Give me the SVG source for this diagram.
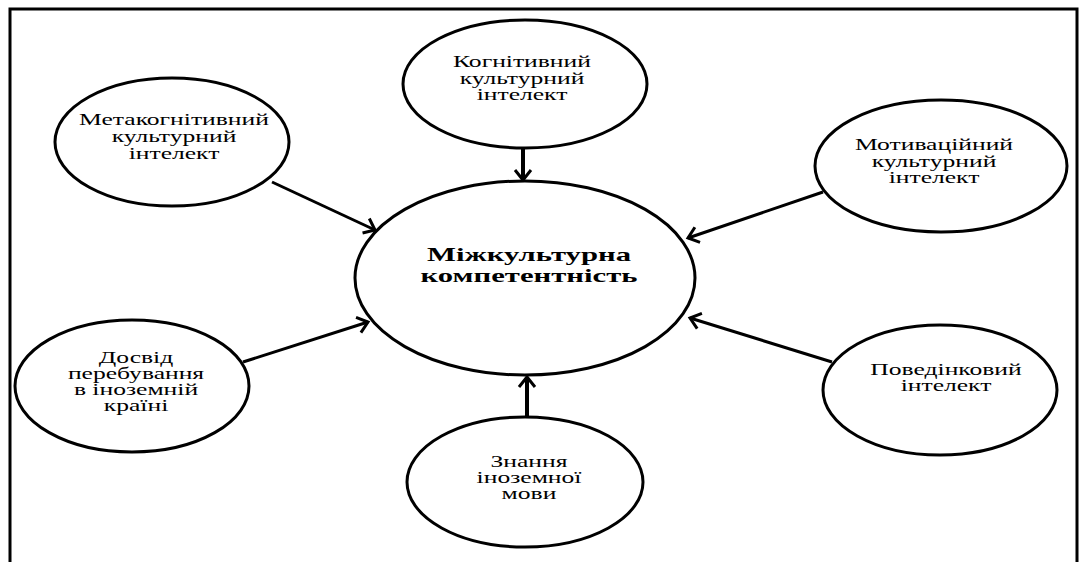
<svg xmlns="http://www.w3.org/2000/svg" width="1084" height="562" viewBox="0 0 1084 562">
  <style>
    .node ellipse { fill: #ffffff; stroke: #000000; stroke-width: 3; }
    .lbl { font-family: "Liberation Serif", "Times New Roman", serif; font-size: 16px; fill: #000000; text-anchor: middle; }
    .main { font-family: "Liberation Serif", "Times New Roman", serif; font-size: 18.5px; font-weight: bold; fill: #000000; text-anchor: middle; }
    .frame { stroke: #000000; stroke-width: 3; fill: none; }
    .conn { stroke: #000000; stroke-width: 3; fill: none; marker-end: url(#chev); }
    .conn.v { stroke-width: 4; }
  </style>
  <defs>
    <marker id="chev" markerUnits="userSpaceOnUse" viewBox="-3 -11 16 22" refX="10" refY="0" markerWidth="16" markerHeight="22" orient="auto">
      <path d="M0,-8 L10,0 L0,8" fill="none" stroke="#000000" stroke-width="3"/>
    </marker>
  </defs>

  <rect width="1084" height="562" fill="#ffffff"/>

  <!-- open frame: top, left and right edges -->
  <path class="frame" d="M10,562 L10,9 L1077,9 L1077,562"/>

  <!-- connectors -->
  <g id="connectors">
    <line class="conn" x1="272" y1="182" x2="375" y2="230"/>
    <line class="conn" x1="823" y1="192" x2="688" y2="238"/>
    <line class="conn" x1="243" y1="362" x2="368" y2="322"/>
    <line class="conn" x1="832" y1="362" x2="690" y2="318"/>
    <line class="conn v" x1="523" y1="148" x2="523" y2="180"/>
    <line class="conn v" x1="527" y1="417" x2="527" y2="377"/>
  </g>

  <g id="n-center" class="node">
    <ellipse cx="525" cy="278" rx="170" ry="97"/>
    <text class="main" transform="translate(529 0) scale(1.66 1)"><tspan x="0" y="261">Міжкультурна</tspan><tspan x="0" y="282">компетентність</tspan></text>
  </g>

  <g id="n-cognitive" class="node">
    <ellipse cx="525" cy="84" rx="122" ry="64"/>
    <text class="lbl" transform="translate(522 0) scale(1.6 1)"><tspan x="0" y="67">Когнітивний</tspan><tspan x="0" y="84">культурний</tspan><tspan x="0" y="100">інтелект</tspan></text>
  </g>

  <g id="n-metacognitive" class="node">
    <ellipse cx="172" cy="142" rx="117" ry="64"/>
    <text class="lbl" transform="translate(174 0) scale(1.6 1)"><tspan x="0" y="125">Метакогнітивний</tspan><tspan x="0" y="142">культурний</tspan><tspan x="0" y="159">інтелект</tspan></text>
  </g>

  <g id="n-motivational" class="node">
    <ellipse cx="941" cy="166" rx="126" ry="66"/>
    <text class="lbl" transform="translate(934 0) scale(1.6 1)"><tspan x="0" y="150">Мотиваційний</tspan><tspan x="0" y="167">культурний</tspan><tspan x="0" y="183">інтелект</tspan></text>
  </g>

  <g id="n-experience" class="node">
    <ellipse cx="132" cy="386" rx="117" ry="66"/>
    <text class="lbl" transform="translate(136 0) scale(1.6 1)"><tspan x="0" y="363">Досвід</tspan><tspan x="0" y="379">перебування</tspan><tspan x="0" y="395">в іноземній</tspan><tspan x="0" y="411">країні</tspan></text>
  </g>

  <g id="n-behavioral" class="node">
    <ellipse cx="940" cy="390" rx="117" ry="65"/>
    <text class="lbl" transform="translate(946 0) scale(1.6 1)"><tspan x="0" y="375">Поведінковий</tspan><tspan x="0" y="391">інтелект</tspan></text>
  </g>

  <g id="n-language" class="node">
    <ellipse cx="525" cy="482" rx="118" ry="65"/>
    <text class="lbl" transform="translate(529 0) scale(1.6 1)"><tspan x="0" y="467">Знання</tspan><tspan x="0" y="483">іноземної</tspan><tspan x="0" y="499">мови</tspan></text>
  </g>
</svg>
